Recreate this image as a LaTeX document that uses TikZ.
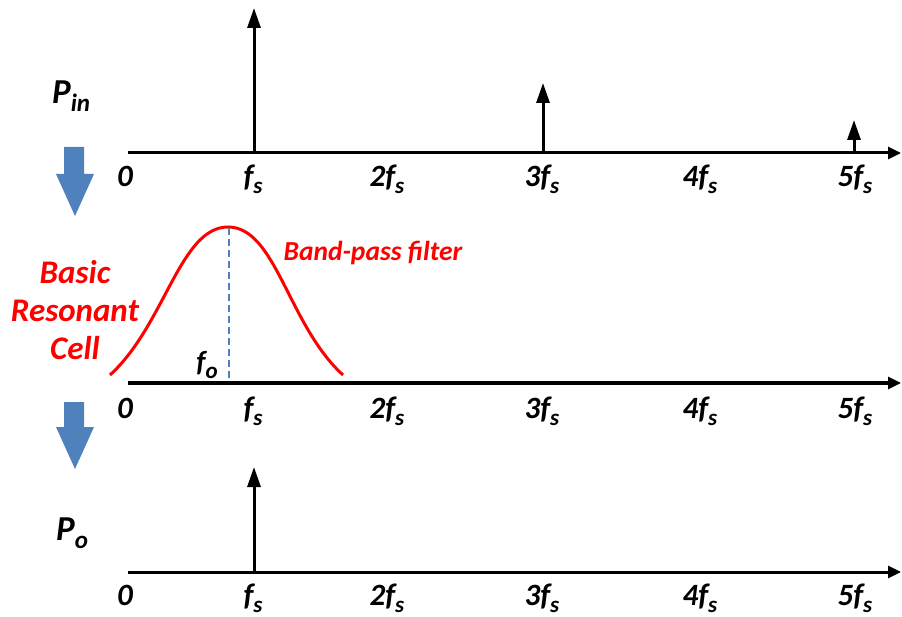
\documentclass[tikz,border=0pt]{standalone}
\usepackage{fontspec}
\setmainfont{Carlito}
\usetikzlibrary{arrows.meta}
\definecolor{bblue}{HTML}{4F81BD}
\definecolor{rred}{HTML}{FF0000}
\newcommand{\sbx}[2]{#1\raisebox{-7pt}{\fontsize{23}{23}\selectfont #2}}
\newcommand{\sbp}[2]{#1\raisebox{-8pt}{\fontsize{25}{25}\selectfont #2}}
\tikzset{
  axisline/.style={line width=3pt, -{Triangle[length=13pt,width=12pt]}},
  spike/.style={line width=3pt, -{Triangle[length=20pt,width=13pt]}},
  lbl/.style={font=\fontsize{31}{31}\selectfont\bfseries\itshape, anchor=base, inner sep=0pt},
  redtxt/.style={text=rred, font=\fontsize{33}{38}\selectfont\bfseries\itshape, inner sep=0pt},
  flow/.style={fill=bblue}
}
\begin{document}
\begin{tikzpicture}[x=1pt,y=-1pt]
\useasboundingbox (0,0) rectangle (902,617);
% ---------- axes ----------
\coordinate (a1s) at (128,153); \coordinate (a1e) at (901,153);
\coordinate (a2s) at (128,383); \coordinate (a2e) at (901,383);
\coordinate (a3s) at (128,572); \coordinate (a3e) at (901,572);
% ---------- filter curve ----------
\draw[rred, line width=3pt] (110,375) .. controls (165,325) and (180,227) .. (228,227)
   .. controls (276,227) and (288,325) .. (343,375);
\coordinate (dtop) at (229,228); \coordinate (dbot) at (229,382);
\draw[bblue, line width=2.5pt, dash pattern=on 7pt off 4pt] (dtop) -- (dbot);
\draw[axisline] (a1s) -- (a1e);
\draw[axisline] (a2s) -- (a2e);
\draw[axisline] (a3s) -- (a3e);
% ---------- spikes ----------
\coordinate (s1b) at (254,153); \coordinate (s1t) at (254,8);
\coordinate (s3b) at (543,153); \coordinate (s3t) at (543,83);
\coordinate (s5b) at (854,153); \coordinate (s5t) at (854,120);
\coordinate (o1b) at (254,572); \coordinate (o1t) at (254,467);
\draw[spike] (s1b) -- (s1t);
\draw[spike] (s3b) -- (s3t);
\draw[spike] (s5b) -- (s5t);
\draw[spike] (o1b) -- (o1t);
% ---------- tick labels ----------
\foreach \r/\y in {1/187, 2/418, 3/605}{
  \node[lbl] (z\r) at (125,\y) {0};
  \node[lbl] (f\r) at (253,\y) {\sbx{f}{s}};
  \node[lbl] (ff\r) at (387,\y) {\sbx{2f}{s}};
  \node[lbl] (fff\r) at (542,\y) {\sbx{3f}{s}};
  \node[lbl] (ffff\r) at (700,\y) {\sbx{4f}{s}};
  \node[lbl] (fffff\r) at (855,\y) {\sbx{5f}{s}};
}
% ---------- signal labels ----------
\node[lbl, anchor=base west, font=\fontsize{35}{35}\selectfont\bfseries\itshape] (pin) at (52,104) {\sbp{P}{in}};
\node[lbl, anchor=base west, font=\fontsize{35}{35}\selectfont\bfseries\itshape] (po) at (56,540) {\sbp{P}{o}};
\node[lbl, font=\fontsize{29}{29}\selectfont\bfseries\itshape] (fo) at (207,371) {\sbx{f}{o}};
% ---------- red texts ----------
\node[redtxt, align=center] (brc) at (75,310) {Basic\\Resonant\\Cell};
\node[redtxt, font=\fontsize{27.5}{27.5}\selectfont\bfseries\itshape] (bpf) at (373,253) {Band-pass filter};
% ---------- flow arrows ----------
\fill[flow] (64,147) -- (84,147) -- (84,174) -- (94,174) -- (75,216) -- (56,174) -- (64,174) -- cycle;
\fill[flow] (64,402) -- (84,402) -- (84,427) -- (94,427) -- (75,469) -- (56,427) -- (64,427) -- cycle;
\end{tikzpicture}
\end{document}
